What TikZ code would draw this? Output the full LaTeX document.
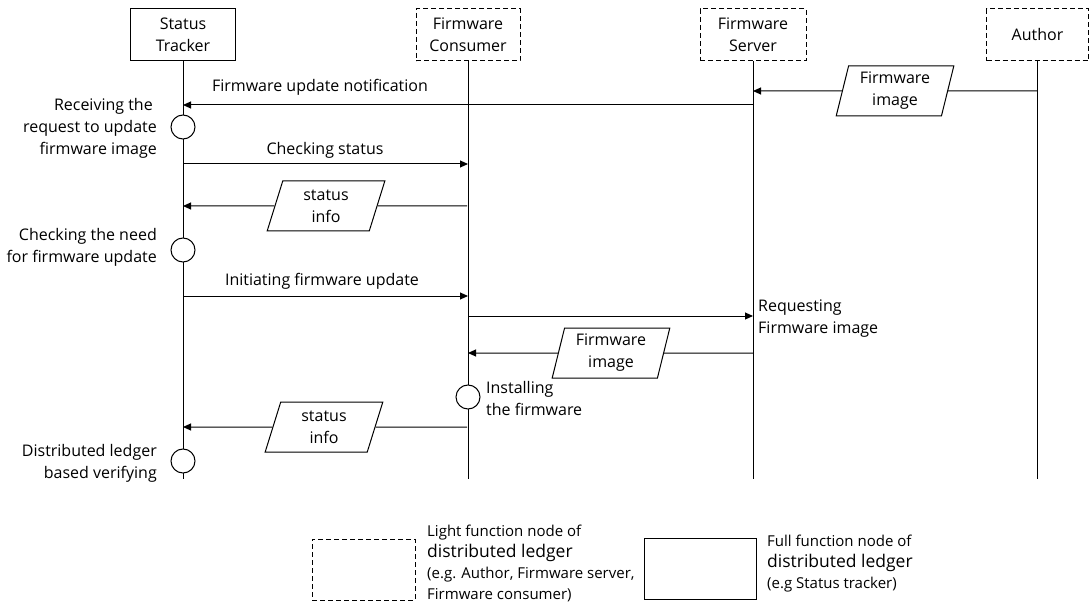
\documentclass[tikz,border=0pt]{standalone}
\usepackage{fontspec}
\setmainfont{Open Sans}
\usetikzlibrary{arrows.meta,shapes.geometric}
\begin{document}
\begin{tikzpicture}[x=1pt,y=-1pt,
  every node/.style={font=\fontsize{16}{22}\selectfont, inner sep=0pt},
  actor/.style={draw, line width=1pt, minimum height=52pt, align=center},
  light/.style={actor, dash pattern=on 5pt off 3pt},
  full/.style={actor},
  life/.style={line width=1pt},
  plain/.style={line width=1pt},
  msg/.style={line width=1pt, -{Triangle[length=8pt,width=7pt]}},
  act/.style={circle, draw, line width=1pt, fill=white, minimum size=24pt},
  data/.style={trapezium, trapezium left angle=76, trapezium right angle=104,
    trapezium stretches=true, draw, line width=1pt, fill=white,
    minimum width=118pt, minimum height=50pt, align=center},
  legtext/.style={anchor=base west, align=left, font=\fontsize{15}{21}\selectfont}
]
\useasboundingbox (0,0) rectangle (1089,612);

% actors
\node[full,  minimum width=105pt] (st) at (183,35)    {Status\\Tracker};
\node[light, minimum width=104pt] (fc) at (468,35)    {Firmware\\Consumer};
\node[light, minimum width=106pt] (fs) at (753,35)    {Firmware\\Server};
\node[light, minimum width=102pt] (au) at (1037.5,35) {Author};

% lifelines
\coordinate (stE) at (183,479);
\coordinate (fcE) at (468,479);
\coordinate (fsE) at (753,479);
\coordinate (auE) at (1037.5,479);
\draw[life] (st.south) -- (stE);
\draw[life] (fc.south) -- (fcE);
\draw[life] (fs.south) -- (fsE);
\draw[life] (au.south) -- (auE);

% activities
\node[act] (c1) at (183,127) {};
\node[act] (c2) at (183,250) {};
\node[act] (c3) at (468,397) {};
\node[act] (c4) at (183,461) {};

% data items
\node[data] (d0) at (895,91)  {Firmware\\image};
\node[data] (d1) at (326,206) {status\\info};
\node[data] (d2) at (611,353) {Firmware\\image};
\node[data] (d3) at (324,427) {status\\info};

% message end points
\coordinate (m0a) at (1037.5,91); \coordinate (m0b) at (753,91);
\coordinate (m1a) at (753,105);   \coordinate (m1b) at (183,105);
\coordinate (m2a) at (183,164);   \coordinate (m2b) at (468,164);
\coordinate (m3a) at (467,206);   \coordinate (m3b) at (183,206);
\coordinate (m4a) at (183,296);   \coordinate (m4b) at (468,296);
\coordinate (m5a) at (468,316);   \coordinate (m5b) at (753,316);
\coordinate (m6a) at (753,353);   \coordinate (m6b) at (468,353);
\coordinate (m7a) at (467,427);   \coordinate (m7b) at (183,427);

\draw[plain] (m0a) -- (d0); \draw[msg] (d0) -- (m0b);
\draw[msg] (m1a) -- (m1b);
\draw[msg] (m2a) -- (m2b);
\draw[plain] (m3a) -- (d1); \draw[msg] (d1) -- (m3b);
\draw[msg] (m4a) -- (m4b);
\draw[msg] (m5a) -- (m5b);
\draw[plain] (m6a) -- (d2); \draw[msg] (d2) -- (m6b);
\draw[plain] (m7a) -- (d3); \draw[msg] (d3) -- (m7b);

% message labels
\node[anchor=base] (l1) at (320,92)  {Firmware update notification};
\node[anchor=base] (l2) at (325,155) {Checking status};
\node[anchor=base] (l4) at (322,286) {Initiating firmware update};

% activity labels (base = last line)
\node[anchor=base east, align=right] (t1) at (157,155) {Receiving the\hspace*{4pt}\\request to update\\firmware image};
\node[anchor=base east, align=right] (t2) at (157,263) {Checking the need\\for firmware update};
\node[anchor=base east, align=right] (t4) at (157,478) {Distributed ledger\\based verifying};
\node[anchor=base west, align=left]  (t3) at (486,415) {Installing\\the firmware};
\node[anchor=base west, align=left]  (t5) at (758,333) {Requesting\\Firmware image};

% legend
\node[draw, line width=1pt, dash pattern=on 5pt off 3pt, minimum width=103pt, minimum height=61pt] (lg1) at (363.5,569.5) {};
\node[legtext] (lt1) at (427,599) {Light function node of\\{\fontsize{17.5}{21}\selectfont distributed ledger}\\(e.g. Author, Firmware server,\\Firmware consumer)};
\node[draw, line width=1pt, minimum width=112pt, minimum height=61pt] (lg2) at (700,568.5) {};
\node[legtext] (lt2) at (767,588) {Full function node of\\{\fontsize{17.5}{21}\selectfont distributed ledger}\\(e.g Status tracker)};
\end{tikzpicture}
\end{document}
